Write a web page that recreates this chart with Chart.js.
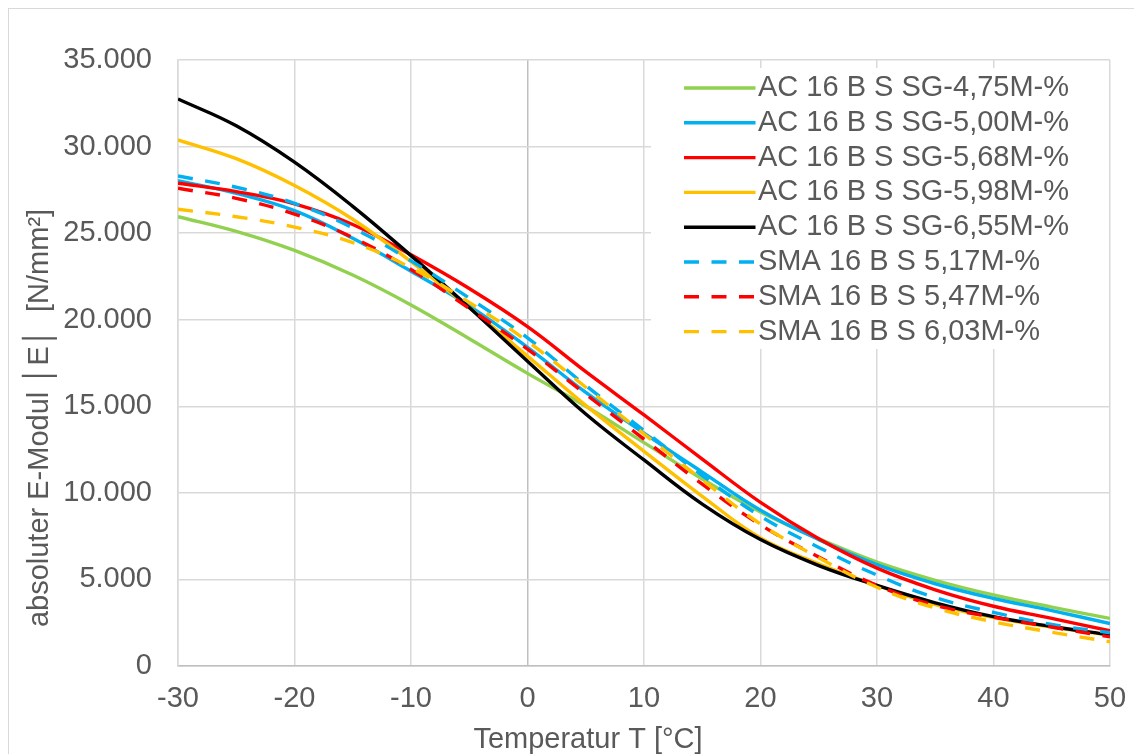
<!DOCTYPE html>
<html>
<head>
<meta charset="utf-8">
<title>E-Modul</title>
<script src="https://cdn.jsdelivr.net/npm/chart.js@4.4.1/dist/chart.umd.min.js"></script>
<style>
  html, body { margin: 0; padding: 0; background: #fff; overflow: hidden; }
  #wrap { position: relative; width: 1134px; height: 754px; }
</style>
</head>
<body>
<div id="wrap"><canvas id="modulChart"></canvas></div>

<script>
// Temperatur T [°C]
const temps = [-30, -25, -20, -15, -10, -5, 0, 5, 10, 15, 20, 25, 30, 35, 40, 45, 50];

// |E| in N/mm² per mix
const ac475 = [25950, 25100, 24000, 22580, 20850, 18900, 16900, 15000, 12900, 10800, 8900, 7350, 6000, 4950, 4100, 3400, 2750];
const ac500 = [28030, 27300, 26300, 24700, 22800, 20800, 18400, 15800, 13450, 11200, 9000, 7300, 5850, 4750, 3900, 3200, 2450];
const ac568 = [27880, 27400, 26690, 25500, 23750, 21800, 19600, 17000, 14500, 11950, 9450, 7350, 5650, 4400, 3450, 2750, 2030];
const ac598 = [30380, 29300, 27750, 25800, 23350, 20700, 17900, 15050, 12400, 9800, 7400, 5900, 4650, 3550, 2800, 2250, 1780];
const ac655 = [32750, 31200, 29100, 26550, 23700, 20700, 17600, 14550, 11900, 9350, 7300, 5800, 4650, 3650, 2850, 2280, 1800];
const sma517 = [28300, 27650, 26720, 25300, 23400, 21250, 18950, 16200, 13600, 11000, 8650, 6850, 5250, 3950, 3100, 2400, 1920];
const sma547 = [27590, 27010, 26100, 24750, 22900, 20650, 18300, 15700, 13100, 10500, 8150, 6300, 4650, 3500, 2820, 2250, 1680];
const sma603 = [26380, 25950, 25350, 24450, 23000, 21000, 18750, 16100, 13400, 10750, 8200, 6250, 4550, 3350, 2550, 1950, 1400];

const seriesNames = [
  "AC 16 B S SG-4,75M-%",
  "AC 16 B S SG-5,00M-%",
  "AC 16 B S SG-5,68M-%",
  "AC 16 B S SG-5,98M-%",
  "AC 16 B S SG-6,55M-%",
  "SMA 16 B S 5,17M-%",
  "SMA 16 B S 5,47M-%",
  "SMA 16 B S 6,03M-%"
];

const yTicks = [0, 5000, 10000, 15000, 20000, 25000, 30000, 35000];
const xTicks = [-30, -20, -10, 0, 10, 20, 30, 40, 50];

const xTitle = "Temperatur T [°C]";
const yTitle = "absoluter E-Modul │E│  [N/mm²]";


const FONT = '"Liberation Sans", Arial, sans-serif';
const TEXT = "#595959";
const DASH = [15, 12.5];

const allValues = [ac475, ac500, ac568, ac598, ac655, sma517, sma547, sma603];
const colors = ["#92d050", "#00b0f0", "#ff0000", "#ffc000", "#000000", "#00b0f0", "#ff0000", "#ffc000"];


function toPoints(values){
  return temps.map((t, i) => ({ x: t, y: values[i] }));
}

function formatThousands(v){
  return String(v).replace(/\B(?=(\d{3})+(?!\d))/g, ".");
}


let datasets = allValues.map((vals, i) => ({
  label: seriesNames[i],
  data: toPoints(vals),
  borderColor: colors[i],
  backgroundColor: colors[i],
  borderWidth: 3.4,
  borderDash: i >= 5 ? DASH : [],
  borderCapStyle: "butt",
  pointRadius: 0,
  fill: false,
  tension: 0.4,
  // later series on top, like the original
  order: allValues.length - i
}));


// outer frame of the chart
const frame = {
  id: "frame",
  beforeDraw(chart){
    const ctx = chart.ctx;
    ctx.save();
    ctx.strokeStyle = "#d9d9d9";
    ctx.lineWidth = 1;
    ctx.strokeRect(8.5, 8.5, 1200, 800);
    ctx.restore();
  }
};


// legend box inside the plot, top right
const legendBox = {
  id: "legendBox",
  beforeDatasetsDraw(chart){
    const ctx = chart.ctx;
    ctx.save();
    ctx.fillStyle = "#ffffff";
    ctx.fillRect(651, 68, 458, 281);

    ctx.font = "29px " + FONT;
    ctx.textBaseline = "middle";
    ctx.textAlign = "left";

    chart.data.datasets.forEach((ds, i) => {
      let y = 88 + i * 34.8;
      ctx.strokeStyle = ds.borderColor;
      ctx.lineWidth = 3.4;
      ctx.lineCap = "butt";
      ctx.setLineDash(ds.borderDash);
      ctx.beginPath();
      ctx.moveTo(684, y);
      ctx.lineTo(755.5, y);
      ctx.stroke();
      ctx.setLineDash([]);
      ctx.fillStyle = TEXT;
      ctx.fillText(ds.label, 758, y);
    });
    ctx.restore();
  }
};


// axis titles sit off-centre in the original
const axisTitles = {
  id: "axisTitles",
  afterDraw(chart){
    const ctx = chart.ctx;
    ctx.save();
    ctx.fillStyle = TEXT;
    ctx.font = "29px " + FONT;
    ctx.textAlign = "center";
    ctx.textBaseline = "middle";
    ctx.fillText(xTitle, 588, 740);

    ctx.translate(40, 418);
    ctx.rotate(-Math.PI / 2);
    ctx.fillText(yTitle, 0, 0);
    ctx.restore();
  }
};


new Chart(document.getElementById("modulChart"), {
  type: "line",
  data: { datasets: datasets },
  options: {
    responsive: true,
    maintainAspectRatio: false,
    animation: false,
    devicePixelRatio: 1,
    layout: { padding: { left: 8, top: 60, right: 24, bottom: 0 } },
    plugins: {
      legend: { display: false },
      tooltip: { enabled: false }
    },
    scales: {
      x: {
        type: "linear",
        min: -30,
        max: 50,
        afterBuildTicks(scale){
          scale.ticks = xTicks.map(v => ({ value: v }));
        },
        afterFit(scale){
          scale.height = 88;
          // labels may hang over the edge, keep the plot width fixed
          scale.paddingLeft = 16;
          scale.paddingRight = 16;
        },
        ticks: {
          color: TEXT,
          font: { family: FONT, size: 29 },
          padding: 16,
          maxRotation: 0
        },
        grid: {
          color: ctx => (ctx.tick && ctx.tick.value === 0) ? "#bfbfbf" : "#d9d9d9",
          lineWidth: 1.5,
          drawTicks: false
        },
        border: { color: "#bfbfbf", width: 1.5 }
      },
      y: {
        min: 0,
        max: 35000,
        afterBuildTicks(scale){
          scale.ticks = yTicks.map(v => ({ value: v }));
        },
        afterFit(scale){
          scale.width = 170;
        },
        ticks: {
          color: TEXT,
          font: { family: FONT, size: 29 },
          padding: 26,
          callback: v => formatThousands(v)
        },
        grid: {
          color: "#d9d9d9",
          lineWidth: 1.5,
          drawTicks: false
        },
        border: { color: "#d9d9d9", width: 1.5 }
      }
    }
  },
  plugins: [frame, legendBox, axisTitles]
});
</script>
</body>
</html>
